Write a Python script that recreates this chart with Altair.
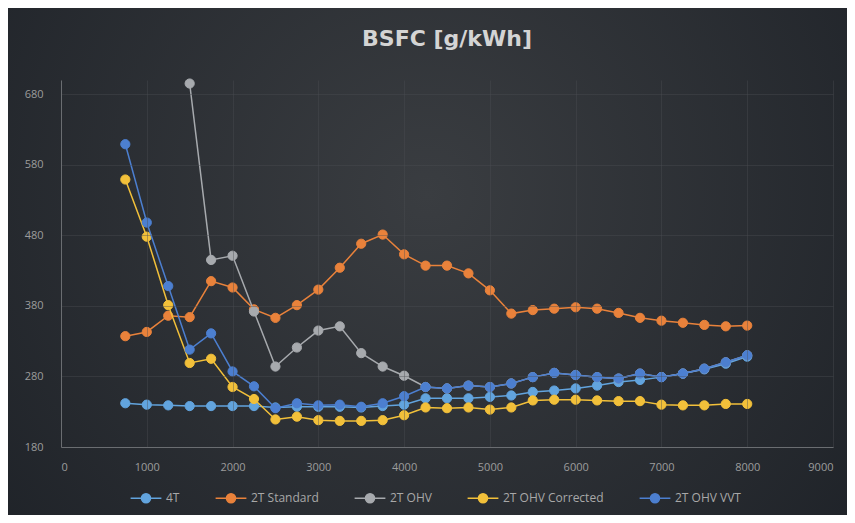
import altair as alt
import pandas as pd

rpm = [750, 1000, 1250, 1500, 1750, 2000, 2250, 2500, 2750, 3000,
       3250, 3500, 3750, 4000, 4250, 4500, 4750, 5000, 5250, 5500,
       5750, 6000, 6250, 6500, 6750, 7000, 7250, 7500, 7750, 8000]

series_names = ["4T", "2T Standard", "2T OHV", "2T OHV Corrected", "2T OHV VVT"]
series_colors = ["#62a4de", "#e9823b", "#a7aaae", "#f2c03a", "#4c7fd0"]

bsfc_4t = [242, 240, 239, 238, 238, 238, 238, 236, 237, 237,
           237, 236, 238, 240, 249, 249, 249, 251, 253, 258,
           260, 263, 267, 272, 275, 279, 284, 290, 298, 308]
bsfc_2t_standard = [337, 343, 366, 364, 415, 406, 375, 363, 381, 403,
                    434, 468, 481, 453, 437, 437, 426, 402, 369, 374,
                    376, 378, 376, 370, 363, 359, 356, 353, 351, 352]
bsfc_2t_ohv = [None, None, None, 695, 445, 451, 372, 294, 321, 345,
               351, 313, 294, 281, 265, 263, 267, 265, 270, 279,
               285, 282, 279, 277, 284, 279, 284, 291, 300, 310]
bsfc_2t_ohv_corrected = [559, 478, 381, 299, 305, 265, 248, 219, 223, 218,
                         217, 217, 218, 225, 236, 235, 236, 233, 236, 246,
                         247, 247, 246, 245, 245, 240, 239, 239, 241, 241]
bsfc_2t_ohv_vvt = [609, 498, 408, 318, 341, 287, 266, 235, 242, 239,
                   240, 237, 242, 252, 265, 263, 267, 265, 270, 279,
                   285, 282, 279, 277, 284, 279, 284, 291, 300, 310]

x_ticks = [0, 1000, 2000, 3000, 4000, 5000, 6000, 7000, 8000, 9000]
y_ticks = [180, 280, 380, 480, 580, 680]

all_values = [bsfc_4t, bsfc_2t_standard, bsfc_2t_ohv, bsfc_2t_ohv_corrected, bsfc_2t_ohv_vvt]
rows = []
for order, (name, vals) in enumerate(zip(series_names, all_values)):
    for r, v in zip(rpm, vals):
        if v is not None:
            rows.append({"rpm": r, "bsfc": v, "series": name, "order": order})
df = pd.DataFrame(rows)

W, H = 772, 367
PAD = {"left": 53, "top": 72, "right": 14, "bottom": 68}

legend_path = ("M-2.2,0L-0.65,0M0.65,0L2.2,0"
               "M0.65,0A0.65,0.65,0,1,1,-0.65,0A0.65,0.65,0,1,1,0.65,0Z")

scale = alt.Scale(domain=series_names, range=series_colors)
legend = alt.Legend(
    title=None, orient="none", direction="horizontal",
    legendX=77, legendY=410, symbolType=legend_path, symbolSize=196,
    symbolStrokeWidth=1.5, labelColor="#a8a8a8", labelFontSize=12,
    labelFont="Open Sans", labelOffset=12, columnPadding=32, padding=0,
    zindex=2,
)

axis_style = dict(
    title=None, gridColor="#4a4d52", gridOpacity=0.4, gridWidth=1,
    domainColor="#6a6d71", ticks=False, zindex=1,
    labelColor="#9c9c9c", labelFontSize=11, labelFont="Open Sans",
)

x_enc = alt.X("rpm:Q", scale=alt.Scale(domain=[0, 9000], nice=False),
              axis=alt.Axis(values=x_ticks, format="d", labelPadding=14, **axis_style))
y_enc = alt.Y("bsfc:Q", scale=alt.Scale(domain=[180, 700], nice=False, zero=False),
              axis=alt.Axis(values=y_ticks, labelPadding=18, **axis_style))

bg = alt.Chart(pd.DataFrame({"k": [0]})).mark_rect(
    fill=alt.Gradient(
        gradient="radial",
        stops=[alt.GradientStop(color="#3a3d41", offset=0),
               alt.GradientStop(color="#1b1f25", offset=1)],
        x1=0.5, y1=0.42, r1=0, x2=0.5, y2=0.42, r2=0.75,
    )
).encode(x=alt.value(-PAD["left"]), x2=alt.value(W + PAD["right"]),
         y=alt.value(-PAD["top"]), y2=alt.value(H + PAD["bottom"]))

base = alt.Chart(df).encode(x=x_enc, y=y_enc)

layers = [bg]
for name in series_names:
    sub = base.transform_filter(alt.datum.series == name)
    layers.append(sub.mark_line(strokeWidth=1.5).encode(
        stroke=alt.Stroke("series:N", scale=scale, legend=legend)))
    layers.append(sub.mark_point(filled=True, size=85, opacity=1, strokeWidth=1).encode(
        fill=alt.Fill("series:N", scale=scale, legend=legend),
        stroke=alt.Stroke("series:N", scale=scale, legend=legend)))

chart = alt.layer(*layers).properties(
    width=W, height=H,
    autosize=alt.AutoSizeParams(type="none"),
    padding=PAD,
    background="#25282d",
    title=alt.TitleParams("BSFC [g/kWh]", fontSize=22, color="#d4d4d4",
                          font="DejaVu Sans", fontWeight="bold", anchor="middle",
                          frame="group", baseline="alphabetic", offset=0,
                          dy=60, zindex=2),
).configure_view(stroke=None)

chart.save("out.html", embed_options={"renderer": "svg", "actions": False})
